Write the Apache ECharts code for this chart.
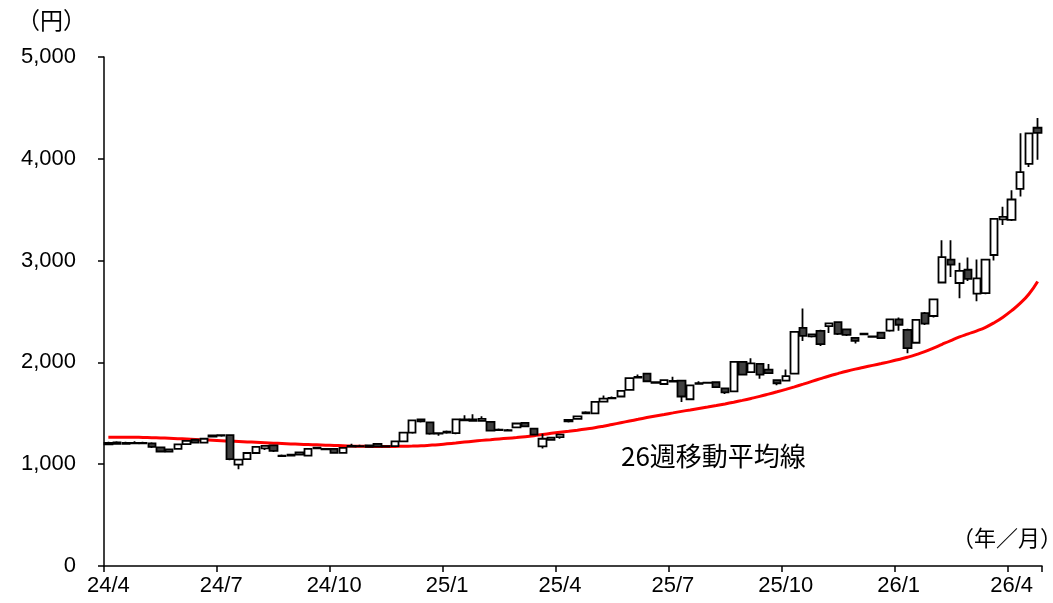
<!DOCTYPE html>
<html>
<head>
<meta charset="utf-8">
<script src="https://cdn.jsdelivr.net/npm/echarts@6/dist/echarts.min.js"></script>
<style>
html,body{margin:0;padding:0;background:#fff;}
#chart{width:1053px;height:603px;}
</style>
</head>
<body>
<div id="chart"></div>
<script>
// Tick labels for the x axis (every 13 weeks)
const tickLabels = ['24/4','24/7','24/10','25/1','25/4','25/7','25/10','26/1','26/4'];
const yTicks = [0, 1000, 2000, 3000, 4000, 5000];

// Weekly candles: open, close, low, high
const opens = [
 1195,1215,1200,1205,1210,1205,1165,1125,1150,1198,1240,1212,1270,1280,1285,995,1050,1110,1155,1185,
 1085,1085,1095,1085,1155,1150,1150,1112,1172,1175,1170,1200,1172,1178,1225,1310,1440,1410,1305,1310,
 1305,1430,1425,1425,1415,1335,1335,1362,1405,1350,1175,1240,1265,1420,1445,1500,1500,1615,1648,1665,
 1730,1850,1890,1800,1788,1812,1820,1638,1790,1798,1805,1745,1715,2005,1905,1985,1930,1825,1820,1890,
 2340,2255,2310,2357,2395,2325,2240,2275,2250,2292,2312,2423,2320,2193,2485,2456,2785,3010,2780,2910,
 2675,2680,3055,3405,3400,3705,3950,4305];
const closes = [
 1210,1200,1210,1210,1205,1170,1125,1145,1195,1230,1212,1250,1282,1285,1050,1045,1110,1170,1180,1130,
 1080,1095,1115,1150,1162,1145,1112,1160,1180,1178,1185,1172,1178,1225,1310,1430,1420,1300,1300,1320,
 1440,1440,1440,1445,1330,1340,1330,1400,1372,1290,1250,1262,1290,1435,1470,1510,1612,1645,1652,1720,
 1845,1858,1815,1805,1826,1818,1665,1775,1795,1802,1758,1705,2005,1880,1990,1880,1895,1795,1866,2300,
 2260,2275,2180,2384,2280,2270,2212,2282,2255,2238,2423,2370,2140,2417,2380,2620,3035,2960,2900,2820,
 2825,3010,3410,3430,3600,3870,4250,4255];
const lows = [
 1185,1190,1190,1195,1195,1160,1115,1115,1145,1190,1205,1205,1262,1270,1040,950,1045,1105,1140,1120,
 1070,1075,1090,1075,1148,1138,1105,1105,1165,1168,1165,1165,1168,1172,1220,1300,1410,1290,1280,1300,
 1295,1425,1418,1418,1325,1330,1320,1355,1365,1285,1155,1235,1250,1410,1440,1490,1495,1610,1640,1660,
 1725,1845,1810,1795,1785,1805,1610,1630,1780,1790,1750,1690,1710,1875,1900,1840,1890,1775,1815,1885,
 2210,2245,2160,2290,2270,2260,2185,2270,2245,2232,2300,2310,2090,2185,2368,2440,2775,2840,2630,2800,
 2600,2670,3000,3350,3390,3630,3920,3990];
const highs = [
 1220,1225,1220,1225,1220,1215,1175,1150,1200,1235,1245,1255,1290,1295,1295,1050,1115,1175,1185,1190,
 1095,1100,1125,1155,1170,1155,1155,1165,1200,1190,1190,1205,1185,1230,1315,1440,1450,1415,1315,1330,
 1445,1480,1490,1470,1420,1350,1345,1405,1410,1355,1300,1270,1300,1445,1478,1520,1618,1675,1665,1725,
 1850,1880,1895,1812,1830,1860,1825,1775,1815,1810,1812,1750,2010,2010,2040,1990,1985,1830,1930,2305,
 2530,2280,2320,2390,2405,2330,2245,2290,2262,2300,2428,2440,2330,2420,2495,2625,3200,3200,2980,3030,
 3010,3015,3415,3530,3690,4250,4255,4400];

// 26-week moving average
const ma26 = [
 1265,1265,1265,1264,1263,1261,1258,1255,1251,1247,1243,1239,1235,1231,1227,1223,1219,1215,1211,1207,
 1203,1199,1196,1193,1190,1187,1184,1181,1178,1176,1175,1174,1174,1175,1176,1178,1181,1186,1192,1200,
 1208,1217,1226,1234,1241,1248,1255,1262,1270,1280,1292,1303,1313,1323,1334,1346,1358,1373,1390,1407,
 1424,1441,1458,1474,1489,1504,1519,1533,1547,1561,1576,1592,1609,1627,1646,1666,1688,1711,1735,1760,
 1786,1813,1840,1866,1890,1913,1934,1953,1971,1989,2008,2029,2051,2076,2105,2140,2178,2215,2250,2280,
 2310,2345,2390,2444,2508,2582,2672,2795];

const categories = opens.map((_, i) => 'W' + (i + 1));
const candles = opens.map((o, i) => [o, closes[i], lows[i], highs[i]]);

const FONT = "'Liberation Sans', Arial, 'Noto Sans CJK JP', sans-serif";
const CJK = "'Noto Sans CJK JP', 'Liberation Sans', sans-serif";
const every13 = (idx) => idx % 13 === 0;

const chart = echarts.init(document.getElementById('chart'));
chart.setOption({
  animation: false,
  backgroundColor: '#ffffff',
  grid: { left: 104, right: 11, top: 57, bottom: 37 },
  xAxis: {
    type: 'category',
    data: categories,
    boundaryGap: true,
    axisLine: { lineStyle: { color: '#000', width: 1.5 } },
    axisTick: { show: true, interval: every13, length: 6, lineStyle: { color: '#000', width: 1.5 } },
    axisLabel: {
      interval: every13,
      margin: 9,
      color: '#000',
      fontSize: 22,
      fontFamily: FONT,
      formatter: (v, idx) => (idx % 13 === 0 ? tickLabels[idx / 13] : '')
    },
    splitLine: { show: false }
  },
  yAxis: {
    type: 'value',
    min: yTicks[0],
    max: yTicks[yTicks.length - 1],
    interval: 1000,
    axisLine: { show: true, lineStyle: { color: '#000', width: 1.5 } },
    axisTick: { show: true, length: 6, lineStyle: { color: '#000', width: 1.5 } },
    axisLabel: {
      margin: 28,
      color: '#000',
      fontSize: 22,
      fontFamily: FONT,
      formatter: (v) => v.toLocaleString('en-US')
    },
    splitLine: { show: false }
  },
  series: [
    {
      name: '26週移動平均線',
      type: 'line',
      data: ma26,
      smooth: true,
      showSymbol: false,
      z: 1,
      lineStyle: { color: '#ff0000', width: 3 }
    },
    {
      name: 'price',
      type: 'candlestick',
      data: candles,
      z: 3,
      barWidth: '90%',
      itemStyle: {
        color: '#ffffff',
        color0: '#404040',
        borderColor: '#000000',
        borderColor0: '#000000',
        borderWidth: 1.8
      }
    }
  ],
  graphic: [
    { type: 'text', left: 17, top: 9, style: { text: '（円）', font: '23px ' + CJK, fill: '#000' } },
    { type: 'text', right: -9, top: 527, style: { text: '（年／月）', font: '22px ' + CJK, fill: '#000' } },
    { type: 'text', left: 621, top: 443, style: { text: '26週移動平均線', font: '26px ' + CJK, fill: '#000' } }
  ]
});
</script>
</body>
</html>
